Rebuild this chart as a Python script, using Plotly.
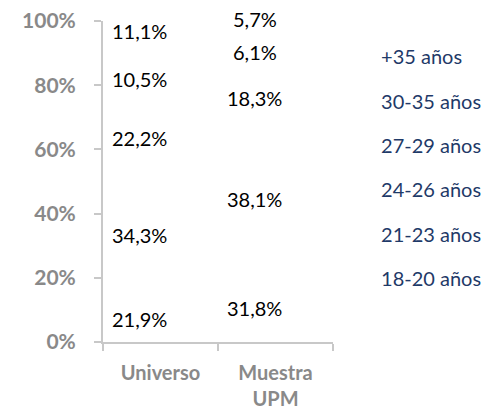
import plotly.graph_objects as go
import numpy as np

categories = ["Universo", "Muestra<br>UPM"]
age_groups = ["18-20 años", "21-23 años", "24-26 años", "27-29 años", "30-35 años", "+35 años"]
universo = [21.9, 34.3, 0.0, 22.2, 10.5, 11.1]
muestra = [31.8, 38.1, 0.0, 18.3, 6.1, 5.7]
label_anchor = ["middle", "middle", "middle", "middle", "middle", "bottom"]

def fmt(v):
    return f"{v:.1f}".replace(".", ",") + "%"

fig = go.Figure()
n = len(age_groups)
for i, g in enumerate(age_groups):
    vals = [universo[i], muestra[i]]
    fig.add_trace(go.Bar(
        x=categories, y=vals, name=g,
        marker=dict(color="rgba(255,255,255,0)", line=dict(width=0)),
        width=0.5, offset=-0.45, legendgroup=g, legendrank=n - i,
        hoverinfo="skip",
    ))

# data labels, placed in the lower third of each stacked segment
for cat, series in zip(categories, [universo, muestra]):
    vals = np.array(series)
    bases = np.concatenate([[0.0], np.cumsum(vals)[:-1]])
    for i, (v, b) in enumerate(zip(vals, bases)):
        if v <= 0:
            continue
        fig.add_annotation(x=cat, y=b + v / 3, text=fmt(v), showarrow=False,
                           xref="x", yref="y", yanchor=label_anchor[i], xanchor="center",
                           xshift=-21,
                           font=dict(color="#000000", size=20, family="Lato"))

# margins compensate for the 8px default body margin of the HTML page
fig.update_layout(
    barmode="stack",
    width=493, height=417,
    margin=dict(l=95, r=168, t=13, b=83),
    paper_bgcolor="white", plot_bgcolor="white",
    font=dict(family="Lato"),
    showlegend=True,
    legend=dict(x=1.035, y=0.95, xanchor="left", yanchor="top",
                traceorder="grouped", tracegroupgap=15.3,
                font=dict(color="#1F3A68", size=20, family="Lato"),
                itemwidth=30),
    xaxis=dict(showline=True, linecolor="#C8C8C8", linewidth=2,
               ticks="outside", ticklen=7, tickcolor="#C8C8C8", tickwidth=2,
               tickson="boundaries", ticklabelstandoff=12, automargin=False,
               ticklabeloverflow="allow",
               tickfont=dict(color="#898989", size=20, family="Lato", weight="bold"),
               showgrid=False, zeroline=False),
    yaxis=dict(range=[0, 100], dtick=20, ticksuffix="%",
               showline=True, linecolor="#C8C8C8", linewidth=2,
               ticks="outside", ticklen=7, tickcolor="#C8C8C8", tickwidth=2,
               ticklabelstandoff=14, automargin=False,
               ticklabeloverflow="allow",
               tickfont=dict(color="#898989", size=21, family="Lato", weight="bold"),
               showgrid=False, zeroline=False),
)

fig.write_html("out.html")
